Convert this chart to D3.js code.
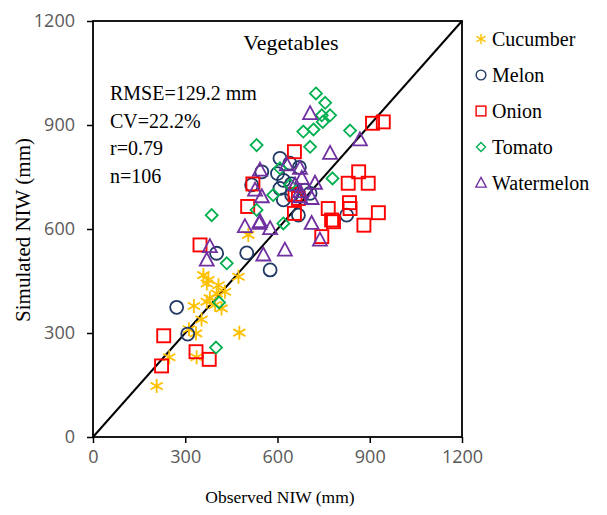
<!DOCTYPE html>
<html><head><meta charset="utf-8">
<script src="https://cdn.jsdelivr.net/npm/d3@7"></script>
<style>body{margin:0;background:#fff}svg{display:block}</style>
</head><body>
<svg id="c" width="607" height="515"></svg>
<script>
const cucumber = [[207,147],[248,230],[337,230],[312,311],[335,299],[476,301],[328,378],[353,339],[370,390],[397,381],[418,371],[402,414],[429,419],[370,443],[359,467],[473,462],[375,453],[505,583],[408,438],[380,400]];
const melon = [[272,374],[308,297],[402,530],[500,531],[576,482],[825,640],[549,765],[516,727],[608,804],[640,790],[671,778],[608,717],[619,684],[646,698],[668,640],[689,712],[706,703],[620,740],[600,760],[645,730]];
const onion = [[223,205],[230,292],[335,246],[378,224],[348,554],[520,730],[503,665],[655,823],[668,688],[655,645],[657,700],[765,659],[776,626],[744,578],[830,732],[864,765],[895,732],[836,659],[834,676],[782,621],[881,611],[928,647],[909,905],[944,909]];
const tomato = [[400,258],[410,388],[386,640],[435,501],[532,842],[532,655],[725,991],[755,964],[744,928],[771,928],[747,909],[717,887],[684,881],[706,837],[836,884],[779,746],[608,775],[641,727],[619,616],[586,698]];
const watermelon = [[380,549],[370,510],[494,607],[541,616],[543,770],[527,712],[549,693],[543,621],[576,601],[624,539],[554,525],[630,785],[673,775],[679,746],[722,732],[673,708],[711,688],[673,693],[711,616],[738,568],[657,727],[706,933],[771,818],[868,857]];
const seriesNames = ["Cucumber","Melon","Onion","Tomato","Watermelon"];
const seriesColors = ["#FFC000","#1F3864","#FF0000","#00B050","#7030A0"];
const seriesShapes = ["asterisk","circle","square","diamond","triangle"];
const ticks = [0,300,600,900,1200];
const statsLines = ["RMSE=129.2 mm","CV=22.2%","r=0.79","n=106"];
const title = "Vegetables";

const svg = d3.select("#c");
const L=93,R=462,T=21,B=437;
const x = d3.scaleLinear().domain([0,1200]).range([L,R]);
const y = d3.scaleLinear().domain([0,1200]).range([B,T]);

function marker(g, shape, color){
  if(shape==="asterisk"){
    const s=7;
    g.append("path").attr("d",`M0,${-s}L0,${s}M${-s*0.87},${-s*0.5}L${s*0.87},${s*0.5}M${-s*0.87},${s*0.5}L${s*0.87},${-s*0.5}`)
     .attr("stroke",color).attr("stroke-width",1.8).attr("fill","none");
  } else if(shape==="circle"){
    g.append("circle").attr("r",6.5).attr("stroke",color).attr("stroke-width",1.8).attr("fill","none");
  } else if(shape==="square"){
    g.append("rect").attr("x",-6.5).attr("y",-6.5).attr("width",13).attr("height",13).attr("stroke",color).attr("stroke-width",1.9).attr("fill","none");
  } else if(shape==="diamond"){
    const s=6;
    g.append("path").attr("d",`M0,${-s}L${s},0L0,${s}L${-s},0Z`).attr("stroke",color).attr("stroke-width",1.8).attr("fill","none");
  } else {
    g.append("path").attr("d","M0,-7.5L7,5.5L-7,5.5Z").attr("stroke",color).attr("stroke-width",1.8).attr("fill","none");
  }
}

// axes
const fmt = d3.format("d");
const xAxis = d3.axisBottom(x).tickValues(ticks).tickFormat(fmt).tickSize(6).tickPadding(7);
const yAxis = d3.axisLeft(y).tickValues(ticks).tickFormat(fmt).tickSize(6).tickPadding(12);
const gx = svg.append("g").attr("transform",`translate(0,${B})`).call(xAxis);
const gy = svg.append("g").attr("transform",`translate(${L},0)`).call(yAxis);
[gx,gy].forEach(g=>{
  g.select(".domain").remove();
  g.selectAll(".tick line").attr("stroke","#000").attr("stroke-width",1.5);
  g.selectAll(".tick text").attr("fill","#595959").attr("font-family","Open Sans, sans-serif").attr("font-size",18);
});

// 1:1 line
svg.append("line").attr("x1",x(0)).attr("y1",y(0)).attr("x2",x(1200)).attr("y2",y(1200))
  .attr("stroke","#000").attr("stroke-width",2);

// frame
svg.append("rect").attr("x",L).attr("y",T).attr("width",R-L).attr("height",B-T)
  .attr("fill","none").attr("stroke","#000").attr("stroke-width",1.8);

// data
const all=[cucumber,melon,onion,tomato,watermelon];
all.forEach((data,i)=>{
  const g=svg.append("g");
  data.forEach(d=>{
    const m=g.append("g").attr("transform",`translate(${x(d[0])},${y(d[1])})`);
    marker(m,seriesShapes[i],seriesColors[i]);
  });
});

// title and stats
const serif="'Liberation Serif', 'Times New Roman', serif";
svg.append("text").attr("x",291).attr("y",50).attr("text-anchor","middle").attr("font-family",serif).attr("font-size",22).text(title);
statsLines.forEach((t,i)=>{
  svg.append("text").attr("x",110).attr("y",100+i*27.5).attr("font-family",serif).attr("font-size",20).text(t);
});

// axis titles
svg.append("text").attr("x",280).attr("y",503).attr("text-anchor","middle").attr("font-family",serif).attr("font-size",17.5).text("Observed NIW (mm)");
svg.append("text").attr("transform",`translate(30,230) rotate(-90)`).attr("text-anchor","middle").attr("font-family",serif).attr("font-size",21).text("Simulated NIW (mm)");

// legend
seriesNames.forEach((n,i)=>{
  const yy=39+i*36;
  const m=svg.append("g").attr("transform",`translate(481,${yy}) scale(0.75)`);
  marker(m,seriesShapes[i],seriesColors[i]);
  svg.append("text").attr("x",492).attr("y",yy+7).attr("font-family",serif).attr("font-size",20).text(n);
});
</script>
</body></html>
